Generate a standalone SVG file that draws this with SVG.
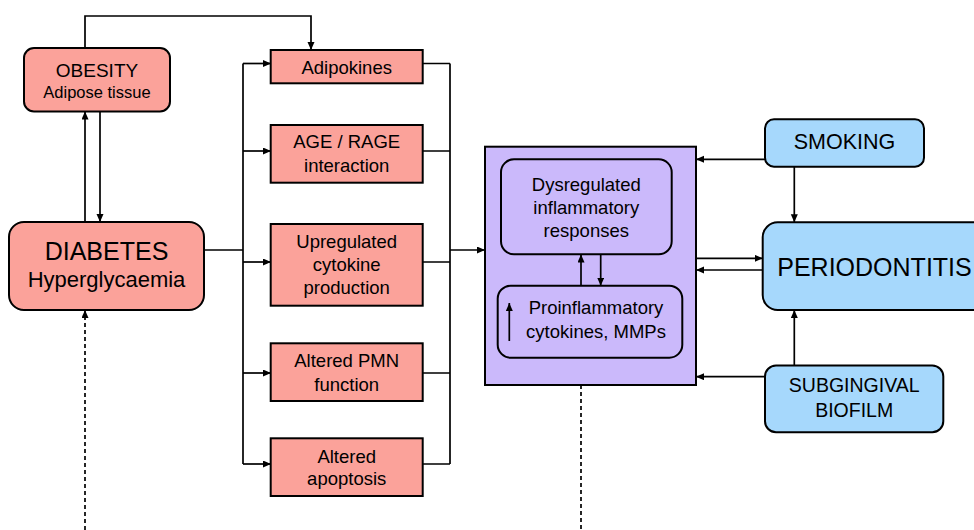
<svg xmlns="http://www.w3.org/2000/svg" width="974" height="530" viewBox="0 0 974 530">
<defs>
<marker id="ah" markerUnits="userSpaceOnUse" markerWidth="10" markerHeight="8" refX="8" refY="3.5" orient="auto">
<path d="M0,0 L8,3.5 L0,7 z" fill="#000"/>
</marker>
<style>
text{font-family:"Liberation Sans",Arial,Helvetica,sans-serif;fill:#000;text-anchor:middle}
.pink{fill:#fba29a;stroke:#000;stroke-width:2}
.blue{fill:#a6d8fc;stroke:#000;stroke-width:2}
.purp{fill:#cbb9fb;stroke:#000;stroke-width:2}
.c{fill:none;stroke:#000;stroke-width:1.7}
.a{marker-end:url(#ah)}
.d{stroke-dasharray:4 3}
.t18{font-size:18.5px}
</style>
</defs>
<rect width="974" height="530" fill="#fff"/>
<g id="obesity">
<rect class="pink" x="24" y="48" width="146" height="63.5" rx="10"/>
<text x="97" y="77.3" font-size="19">OBESITY</text>
<text x="97" y="97.7" font-size="16.5">Adipose tissue</text>
</g>
<g id="diabetes">
<rect class="pink" x="9" y="222" width="195" height="88" rx="15"/>
<text x="106.5" y="260" font-size="25">DIABETES</text>
<text x="106.5" y="286.7" font-size="22">Hyperglycaemia</text>
</g>
<g id="adipokines">
<rect class="pink" x="270.7" y="50" width="152" height="33.3"/>
<text class="t18" x="346.7" y="74">Adipokines</text>
</g>
<g id="age-rage">
<rect class="pink" x="270.7" y="125" width="152" height="57.7"/>
<text class="t18" x="346.7" y="148.3">AGE / RAGE</text>
<text class="t18" x="346.7" y="172.3">interaction</text>
</g>
<g id="cytokine">
<rect class="pink" x="270.7" y="224" width="152" height="81.7"/>
<text class="t18" x="346.7" y="248.3">Upregulated</text>
<text class="t18" x="346.7" y="271.3">cytokine</text>
<text class="t18" x="346.7" y="294.3">production</text>
</g>
<g id="pmn">
<rect class="pink" x="270.7" y="343.3" width="152" height="57.7"/>
<text class="t18" x="346.7" y="367.3">Altered PMN</text>
<text class="t18" x="346.7" y="390.7">function</text>
</g>
<g id="apoptosis">
<rect class="pink" x="270.7" y="438.3" width="152" height="57.7"/>
<text class="t18" x="346.7" y="462.7">Altered</text>
<text class="t18" x="346.7" y="485.3">apoptosis</text>
</g>
<g id="inflammation">
<rect class="purp" x="485" y="146.7" width="211" height="238.3"/>
</g>
<g id="dysregulated">
<rect class="purp" x="501" y="159.3" width="170.7" height="95" rx="13"/>
<text class="t18" x="586.3" y="190.7">Dysregulated</text>
<text class="t18" x="586.3" y="214.3">inflammatory</text>
<text class="t18" x="586.3" y="237.3">responses</text>
</g>
<g id="proinflammatory">
<rect class="purp" x="497.7" y="285.7" width="184.6" height="72" rx="13"/>
<text class="t18" x="596" y="314.3">Proinflammatory</text>
<text class="t18" x="596" y="337.7">cytokines, MMPs</text>
</g>
<g id="smoking">
<rect class="blue" x="765" y="119.3" width="159" height="47.4" rx="9"/>
<text x="844.5" y="149" font-size="21.5">SMOKING</text>
</g>
<g id="periodontitis">
<rect class="blue" x="762.7" y="222.3" width="230" height="87.7" rx="15"/>
<text x="874.5" y="275.7" font-size="25">PERIODONTITIS</text>
</g>
<g id="biofilm">
<rect class="blue" x="765" y="365.5" width="178.3" height="66.8" rx="11"/>
<text x="854.2" y="392.3" font-size="19.5">SUBGINGIVAL</text>
<text x="854.2" y="416.7" font-size="19.5">BIOFILM</text>
</g>
<g id="connectors">
<path class="c a" d="M85,48 V16 H311 V50"/>
<path class="c a" d="M85,222 V111.5"/>
<path class="c a" d="M100,111.5 V222"/>
<path class="c" d="M204,250 H243"/>
<path class="c" d="M243,63.5 V464"/>
<path class="c a" d="M243,63.5 H271"/>
<path class="c a" d="M243,151 H271"/>
<path class="c a" d="M243,262 H271"/>
<path class="c a" d="M243,373 H271"/>
<path class="c a" d="M243,464 H271"/>
<path class="c" d="M422.7,63.5 H450 M422.7,151 H450 M422.7,262 H450 M422.7,373 H450 M422.7,464 H450 M450,63.5 V464"/>
<path class="c a" d="M450,250 H485"/>
<path class="c a" d="M581,285.7 V254.5"/>
<path class="c a" d="M600.7,254.5 V285.7"/>
<path class="c a" d="M509.3,341 V303"/>
<path class="c a" d="M765,159.3 H696"/>
<path class="c a" d="M794.3,166.7 V222.3"/>
<path class="c a" d="M696,258.3 H762.7"/>
<path class="c a" d="M762.7,270 H696"/>
<path class="c a" d="M765,376.7 H696"/>
<path class="c a" d="M794.3,365.5 V310"/>
<path class="c a d" d="M85,530 V310"/>
<path class="c d" d="M581,385 V530"/>
</g>
</svg>
